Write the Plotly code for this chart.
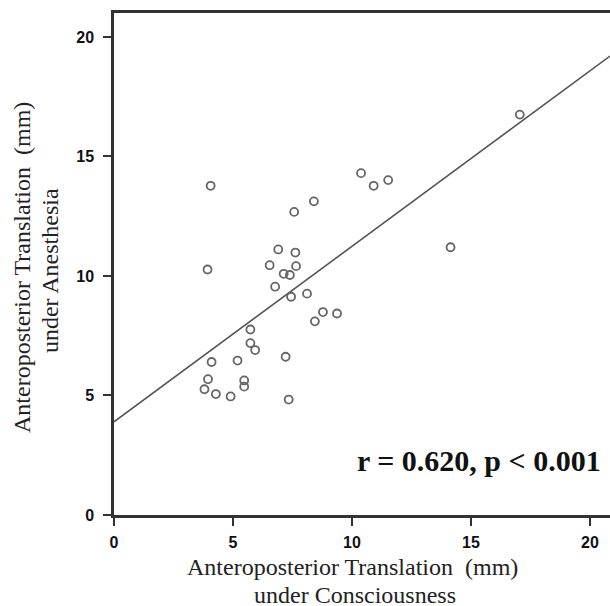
import plotly.graph_objects as go

# Data
consciousness = [17.05, 10.38, 10.91, 11.52, 4.06, 8.40, 7.57, 14.14, 6.90, 7.62,
                 6.54, 7.65, 3.93, 7.13, 7.39, 6.77, 7.44, 8.11, 8.78, 9.37,
                 8.44, 5.73, 5.73, 5.93, 7.21, 5.19, 4.10, 3.95, 5.47, 5.47,
                 3.80, 4.28, 4.90, 7.34]
anesthesia = [16.75, 14.30, 13.77, 14.01, 13.77, 13.12, 12.68, 11.20, 11.11, 10.98,
              10.45, 10.41, 10.27, 10.09, 10.04, 9.55, 9.13, 9.26, 8.49, 8.43,
              8.10, 7.76, 7.19, 6.90, 6.62, 6.46, 6.40, 5.68, 5.63, 5.37,
              5.26, 5.06, 4.96, 4.83]
fit_x = [0, 20.84]
fit_intercept = 3.9
fit_slope = 0.734
fit_y = [fit_intercept + fit_slope * v for v in fit_x]

x_ticks = [0, 5, 10, 15, 20]
y_ticks = [0, 5, 10, 15, 20]

fig = go.Figure()
fig.add_trace(go.Scatter(x=fit_x, y=fit_y, mode="lines",
                         line=dict(color="#555555", width=1.6),
                         showlegend=False, hoverinfo="skip"))
fig.add_trace(go.Scatter(x=consciousness, y=anesthesia, mode="markers",
                         marker=dict(symbol="circle-open", size=8,
                                     color="#666666", line=dict(width=1.8)),
                         showlegend=False))

serif = "Liberation Serif, Times New Roman, serif"
sans = "Liberation Sans, Arial, sans-serif"
title_font = dict(family=serif, size=24, color="#222222")

fig.update_layout(
    width=610, height=606,
    margin=dict(l=114, r=0, t=13, b=91),
    paper_bgcolor="white", plot_bgcolor="white",
    xaxis=dict(range=[0, 20.84], tickvals=x_ticks, showgrid=False, zeroline=False,
               automargin=False,
               showline=True, linecolor="#333333", linewidth=2.5, mirror=True,
               ticks="outside", ticklen=8, tickwidth=2, tickcolor="#333333",
               ticklabelstandoff=3,
               tickfont=dict(family=sans, size=16, color="#111111", weight="bold")),
    yaxis=dict(range=[0, 21.0], tickvals=y_ticks, showgrid=False, zeroline=False,
               automargin=False,
               showline=True, linecolor="#333333", linewidth=2.5, mirror=False,
               ticks="outside", ticklen=8, tickwidth=2, tickcolor="#333333",
               ticklabelstandoff=6,
               tickfont=dict(family=sans, size=16, color="#111111", weight="bold")),
    annotations=[
        dict(text="Anteroposterior Translation  (mm)",
             xref="paper", yref="paper", x=0.48, y=-0.1026, xanchor="center", yanchor="middle",
             showarrow=False, font=title_font),
        dict(text="under Consciousness",
             xref="paper", yref="paper", x=0.486, y=-0.1586, xanchor="center", yanchor="middle",
             showarrow=False, font=title_font),
        dict(text="Anteroposterior Translation  (mm)",
             xref="paper", yref="paper", x=-0.1855, y=0.494, xanchor="center", yanchor="middle",
             textangle=-90, showarrow=False, font=title_font),
        dict(text="under Anesthesia",
             xref="paper", yref="paper", x=-0.129, y=0.486, xanchor="center", yanchor="middle",
             textangle=-90, showarrow=False, font=title_font),
        dict(text="r = 0.620, p < 0.001",
             xref="paper", yref="paper", x=0.736, y=0.1076, xanchor="center", yanchor="middle",
             showarrow=False, font=dict(family=serif, size=30, color="#111111", weight="bold")),
    ],
)

fig.write_html("out.html",
               config={"displayModeBar": False},
               post_script="document.body.style.margin='0px';document.body.style.overflow='hidden';")
